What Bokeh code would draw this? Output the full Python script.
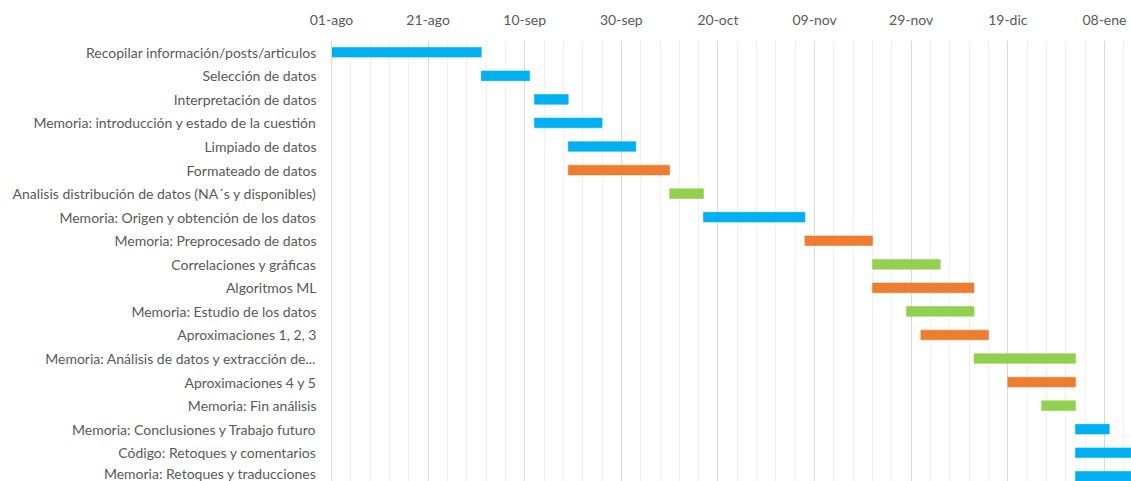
import pandas as pd
from bokeh.plotting import figure
from bokeh.models import ColumnDataSource, Range1d, FixedTicker
from bokeh.embed import file_html
from bokeh.resources import INLINE

# Project schedule (Gantt)
tasks = [
    "Recopilar información/posts/articulos",
    "Selección de datos",
    "Interpretación de datos",
    "Memoria: introducción y estado de la cuestión",
    "Limpiado de datos",
    "Formateado de datos",
    "Analisis distribución de datos (NA´s y disponibles)",
    "Memoria: Origen y obtención de los datos",
    "Memoria: Preprocesado de datos",
    "Correlaciones y gráficas",
    "Algoritmos ML",
    "Memoria: Estudio de los datos",
    "Aproximaciones 1, 2, 3",
    "Memoria: Análisis de datos y extracción de...",
    "Aproximaciones 4 y 5",
    "Memoria: Fin análisis",
    "Memoria: Conclusiones y Trabajo futuro",
    "Código: Retoques y comentarios",
    "Memoria: Retoques y traducciones",
]
start_dates = [
    "2021-08-01", "2021-09-01", "2021-09-12", "2021-09-12", "2021-09-19",
    "2021-09-19", "2021-10-10", "2021-10-17", "2021-11-07", "2021-11-21",
    "2021-11-21", "2021-11-28", "2021-12-01", "2021-12-12", "2021-12-19",
    "2021-12-26", "2022-01-02", "2022-01-02", "2022-01-02",
]
end_dates = [
    "2021-09-01", "2021-09-11", "2021-09-19", "2021-09-26", "2021-10-03",
    "2021-10-10", "2021-10-17", "2021-11-07", "2021-11-21", "2021-12-05",
    "2021-12-12", "2021-12-12", "2021-12-15", "2022-01-02", "2022-01-02",
    "2022-01-02", "2022-01-09", "2022-01-16", "2022-01-16",
]
kinds = [
    "memoria", "memoria", "memoria", "memoria", "memoria",
    "datos", "analisis", "memoria", "datos", "analisis",
    "datos", "analisis", "datos", "analisis", "datos",
    "analisis", "memoria", "memoria", "memoria",
]
tick_dates = ["2021-08-01", "2021-08-21", "2021-09-10", "2021-09-30", "2021-10-20",
              "2021-11-09", "2021-11-29", "2021-12-19", "2022-01-08"]
tick_labels = ["01-ago", "21-ago", "10-sep", "30-sep", "20-oct",
               "09-nov", "29-nov", "19-dic", "08-ene"]

palette = {"memoria": "#00B0F0", "datos": "#ED7D31", "analisis": "#92D050"}

origin = pd.Timestamp("2021-08-01")


def days(ds):
    return [(pd.Timestamp(d) - origin).days for d in ds]


rows = list(range(1, len(tasks) + 1))
src = ColumnDataSource(dict(
    y=rows,
    left=days(start_dates),
    right=days(end_dates),
    color=[palette[k] for k in kinds],
))

gray = "#595959"
p = figure(width=1131, height=481, output_backend="svg", toolbar_location=None,
           x_axis_location="above",
           x_range=Range1d(0, 165.6), y_range=Range1d(19.22, 0.5))
p.min_border_left = 331
p.min_border_top = 40
p.min_border_right = 0
p.min_border_bottom = 0
p.outline_line_color = None
p.background_fill_color = "white"
p.border_fill_color = "white"

p.hbar(y="y", left="left", right="right", height=0.41, color="color",
       line_color="color", line_alpha=0.6, source=src)

# x axis (dates on top)
major = days(tick_dates)
minor = list(range(0, 170, 4))
p.xaxis.ticker = FixedTicker(ticks=major, minor_ticks=minor)
p.xaxis.major_label_overrides = dict(zip(major, tick_labels))
p.xaxis.axis_line_color = None
p.xaxis.major_tick_line_color = None
p.xaxis.minor_tick_line_color = None
p.xaxis.major_label_standoff = 7
p.xaxis.major_label_text_font = "Lato"
p.xaxis.major_label_text_font_size = "14px"
p.xaxis.major_label_text_color = gray

p.xgrid.grid_line_color = "#d9d9d9"
p.xgrid.minor_grid_line_color = "#f0f0f0"
p.ygrid.grid_line_color = None

# y axis (task names)
p.yaxis.ticker = FixedTicker(ticks=rows)
p.yaxis.major_label_overrides = dict(zip(rows, tasks))
p.yaxis.axis_line_color = "#d9d9d9"
p.yaxis.major_tick_line_color = None
p.yaxis.minor_tick_line_color = None
p.yaxis.major_label_standoff = 9
p.yaxis.major_label_text_font = "Lato"
p.yaxis.major_label_text_font_size = "14px"
p.yaxis.major_label_text_color = gray

open("out.html", "w").write(file_html(p, INLINE))
